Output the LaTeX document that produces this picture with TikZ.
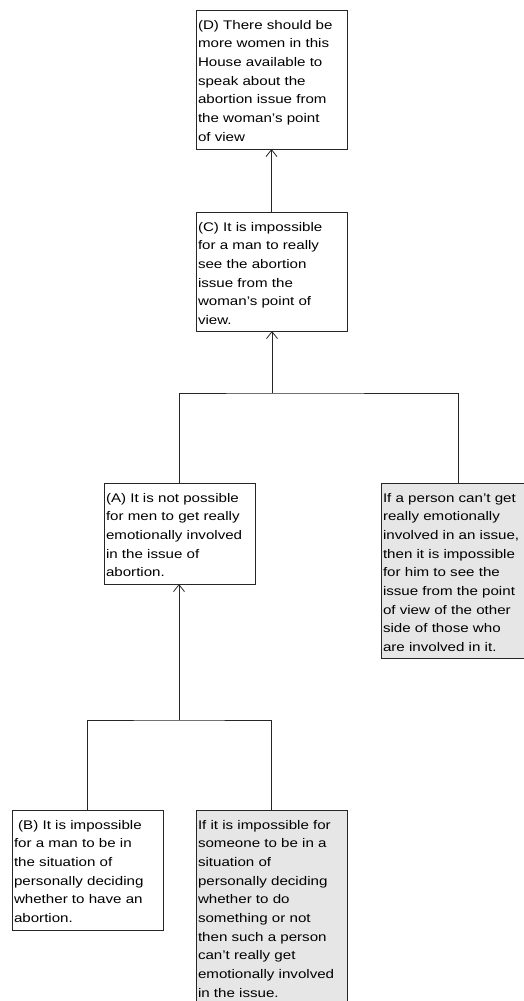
\documentclass[tikz,border=0pt]{standalone}
\usepackage{fontspec}
\setmainfont{Liberation Sans}[FakeStretch=1.21]
\usetikzlibrary{arrows.meta}
\definecolor{boxgrey}{HTML}{E6E6E6}
\newcommand\argtext[2]{\begin{minipage}[t][#1pt][t]{147pt}\raggedright\fontsize{12.5}{18.7}\selectfont\rule{0pt}{19pt}#2\end{minipage}}
\tikzset{
  argbox/.style={draw=black!85, line width=0.9pt, fill=white, inner xsep=2pt, inner ysep=0pt, anchor=north west, outer sep=0pt},
  hidden/.style={argbox, fill=boxgrey},
  link/.style={draw=black!85, line width=0.9pt},
  support/.style={link, -{Straight Barb[length=7pt,width=11pt,line width=0.8pt]}},
}
\begin{document}
\begin{tikzpicture}[x=1pt,y=-1pt]
\useasboundingbox[fill=white] (0,0) rectangle (524,1001);
\node[argbox] (D) at (196,10) {\argtext{139}{(D) There should be\\more women in this\\House available to\\speak about the\\abortion issue from\\the woman's point\\of view}};
\node[argbox] (C) at (196,212) {\argtext{119}{(C) It is impossible\\for a man to really\\see the abortion\\issue from the\\woman's point of\\view.}};
\node[argbox] (A) at (104,483) {\argtext{101}{(A) It is not possible\\for men to get really\\emotionally involved\\in the issue of\\abortion.}};
\node[hidden] (R) at (381,483) {\argtext{175}{If a person can't get\\really emotionally\\involved in an issue,\\then it is impossible\\for him to see the\\issue from the point\\of view of the other\\side of those who\\are involved in it.}};
\node[argbox] (B) at (12,810) {\argtext{120}{\ (B) It is impossible\\for a man to be in\\the situation of\\personally deciding\\whether to have an\\abortion.}};
\node[hidden] (E) at (196,810) {\argtext{210}{If it is impossible for\\someone to be in a\\situation of\\personally deciding\\whether to do\\something or not\\then such a person\\can't really get\\emotionally involved\\in the issue.}};
\coordinate (j1) at (272,393);
\coordinate (j2) at (179,720);
\draw[support] (C.north -| D.south) -- (D.south);
\draw[support] (j1) -- (C.south -| j1);
\draw[link] (A.north -| j2) |- (j1) -| ([xshift=1.5pt]R.north);
\draw[support] (j2) -- (A.south -| j2);
\draw[link] (B.north) |- (j2) -| (E.north);
\end{tikzpicture}
\end{document}
